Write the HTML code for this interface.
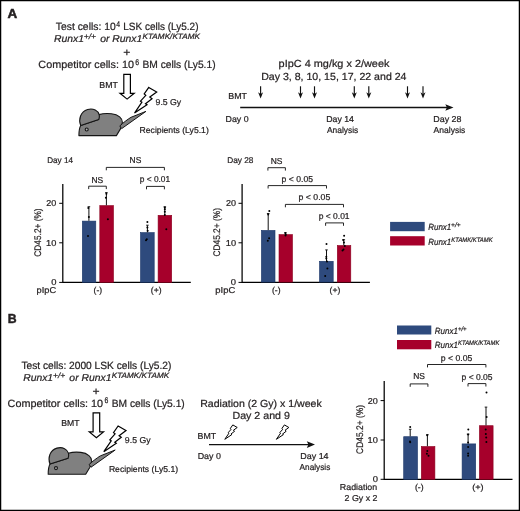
<!DOCTYPE html>
<html><head><meta charset="utf-8"><style>
html,body{margin:0;padding:0;background:#fff;}
svg{display:block;will-change:transform;}
text{text-rendering:geometricPrecision;font-family:"Liberation Sans", sans-serif;fill:#231f20;stroke:#231f20;stroke-width:0.22px;}
</style></head><body>
<svg width="520" height="511" viewBox="0 0 520 511">
<rect width="520" height="511" fill="#fff"/>
<rect x="0.6" y="0.6" width="518.8" height="509.8" fill="none" stroke="#000" stroke-width="1.3"/>
<text x="7.59" y="18.30" font-size="13" font-weight="bold" style="stroke-width:0.5px" textLength="9.71" lengthAdjust="spacingAndGlyphs">A</text>
<text x="7.69" y="322.70" font-size="13" font-weight="bold" style="stroke-width:0.5px" textLength="8.86" lengthAdjust="spacingAndGlyphs">B</text>
<text x="55.80" y="30.35" font-size="10.5" textLength="59.93" lengthAdjust="spacingAndGlyphs">Test cells: 10</text>
<text x="116.22" y="26.60" font-size="8.2" textLength="3.82" lengthAdjust="spacingAndGlyphs">4</text>
<text x="123.24" y="30.35" font-size="10.5" textLength="75.23" lengthAdjust="spacingAndGlyphs">LSK cells (Ly5.2)</text>
<text x="53.99" y="42.30" font-size="10" font-style="italic" textLength="29.90" lengthAdjust="spacingAndGlyphs">Runx1</text>
<text x="83.76" y="39.20" font-size="7.7" font-style="italic" textLength="12.26" lengthAdjust="spacingAndGlyphs">+/+</text>
<text x="100.19" y="42.30" font-size="10" font-style="italic" textLength="42.10" lengthAdjust="spacingAndGlyphs">or Runx1</text>
<text x="142.49" y="39.20" font-size="7.7" font-style="italic" textLength="57.53" lengthAdjust="spacingAndGlyphs">KTAMK/KTAMK</text>
<text x="123.34" y="56.20" font-size="11" textLength="7.14" lengthAdjust="spacingAndGlyphs">+</text>
<text x="38.39" y="68.30" font-size="10.5" textLength="95.56" lengthAdjust="spacingAndGlyphs">Competitor cells: 10</text>
<text x="135.26" y="64.80" font-size="8.2" textLength="3.84" lengthAdjust="spacingAndGlyphs">6</text>
<text x="142.52" y="68.30" font-size="10.5" textLength="73.06" lengthAdjust="spacingAndGlyphs">BM cells (Ly5.1)</text>
<text x="21.41" y="368.95" font-size="10.5" textLength="149.97" lengthAdjust="spacingAndGlyphs">Test cells: 2000 LSK cells (Ly5.2)</text>
<text x="23.19" y="380.90" font-size="10" font-style="italic" textLength="29.90" lengthAdjust="spacingAndGlyphs">Runx1</text>
<text x="52.96" y="377.80" font-size="7.7" font-style="italic" textLength="12.26" lengthAdjust="spacingAndGlyphs">+/+</text>
<text x="69.39" y="380.90" font-size="10" font-style="italic" textLength="42.10" lengthAdjust="spacingAndGlyphs">or Runx1</text>
<text x="111.69" y="377.80" font-size="7.7" font-style="italic" textLength="57.53" lengthAdjust="spacingAndGlyphs">KTAMK/KTAMK</text>
<text x="92.54" y="394.80" font-size="11" textLength="7.14" lengthAdjust="spacingAndGlyphs">+</text>
<text x="7.59" y="406.90" font-size="10.5" textLength="95.56" lengthAdjust="spacingAndGlyphs">Competitor cells: 10</text>
<text x="104.46" y="403.40" font-size="8.2" textLength="3.84" lengthAdjust="spacingAndGlyphs">6</text>
<text x="111.72" y="406.90" font-size="10.5" textLength="73.06" lengthAdjust="spacingAndGlyphs">BM cells (Ly5.1)</text>
<text x="99.38" y="87.50" font-size="8.6" textLength="18.57" lengthAdjust="spacingAndGlyphs">BMT</text>
<text x="155.59" y="104.60" font-size="8.6" textLength="25.66" lengthAdjust="spacingAndGlyphs">9.5 Gy</text>
<text x="139.60" y="133.40" font-size="8.6" textLength="69.17" lengthAdjust="spacingAndGlyphs">Recipients (Ly5.1)</text>
<g transform="translate(0,0)">
<path d="M123.8,74.3 L130.4,74.3 L130.4,93.3 L134.2,93.3 L127.1,99.1 L120.0,93.3 L123.8,93.3 Z" fill="#fff" stroke="#000" stroke-width="1.2"/>
<path d="M148.8,87.4 L156.7,92.0 L149.8,97.1 L152.0,98.7 L145.5,103.7 L147.0,104.7 L134.5,113.1 L141.9,102.2 L140.5,101.2 L145.8,95.3 L144.2,94.0 Z" fill="#fff" stroke="#000" stroke-width="1.2" stroke-linejoin="miter"/>
<path d="M78.9,135.6 L116.4,135.6 L120.6,128.6 L122.4,122.5 C122.6,118.5 118.5,114.6 111.5,113.8 C106,113.2 101.8,113.8 98.9,114.6 L98.7,119.6 L80.7,125.5 C79.4,127.8 78.9,131.5 78.9,135.6 Z" fill="#808080" stroke="#151515" stroke-width="1.1" stroke-linejoin="round"/>
<path d="M119.8,125.9 C123.5,122.6 127.5,119.4 131.0,117.3 L145.9,111.4 L121.7,128.6 Z" fill="#808080" stroke="#151515" stroke-width="1.0" stroke-linejoin="round"/>
<path d="M80.7,125.5 C78.2,119.5 80.5,111.5 87.6,109.5 C93.5,107.9 98.2,110.8 99.2,114.8 C99.6,116.5 99.4,118.2 98.7,119.6 Z" fill="#808080" stroke="#151515" stroke-width="1.1" stroke-linejoin="round"/>
<circle cx="86.7" cy="129.5" r="1.5" fill="#b4b4b4" stroke="#151515" stroke-width="1.1"/>
</g>
<text x="61.20" y="426.10" font-size="8.6" textLength="18.26" lengthAdjust="spacingAndGlyphs">BMT</text>
<text x="124.89" y="443.20" font-size="8.6" textLength="25.66" lengthAdjust="spacingAndGlyphs">9.5 Gy</text>
<text x="108.90" y="472.00" font-size="8.6" textLength="69.17" lengthAdjust="spacingAndGlyphs">Recipients (Ly5.1)</text>
<g transform="translate(-30.7,338.6)">
<path d="M123.8,74.3 L130.4,74.3 L130.4,93.3 L134.2,93.3 L127.1,99.1 L120.0,93.3 L123.8,93.3 Z" fill="#fff" stroke="#000" stroke-width="1.2"/>
<path d="M148.8,87.4 L156.7,92.0 L149.8,97.1 L152.0,98.7 L145.5,103.7 L147.0,104.7 L134.5,113.1 L141.9,102.2 L140.5,101.2 L145.8,95.3 L144.2,94.0 Z" fill="#fff" stroke="#000" stroke-width="1.2" stroke-linejoin="miter"/>
<path d="M78.9,135.6 L116.4,135.6 L120.6,128.6 L122.4,122.5 C122.6,118.5 118.5,114.6 111.5,113.8 C106,113.2 101.8,113.8 98.9,114.6 L98.7,119.6 L80.7,125.5 C79.4,127.8 78.9,131.5 78.9,135.6 Z" fill="#808080" stroke="#151515" stroke-width="1.1" stroke-linejoin="round"/>
<path d="M119.8,125.9 C123.5,122.6 127.5,119.4 131.0,117.3 L145.9,111.4 L121.7,128.6 Z" fill="#808080" stroke="#151515" stroke-width="1.0" stroke-linejoin="round"/>
<path d="M80.7,125.5 C78.2,119.5 80.5,111.5 87.6,109.5 C93.5,107.9 98.2,110.8 99.2,114.8 C99.6,116.5 99.4,118.2 98.7,119.6 Z" fill="#808080" stroke="#151515" stroke-width="1.1" stroke-linejoin="round"/>
<circle cx="86.7" cy="129.5" r="1.5" fill="#b4b4b4" stroke="#151515" stroke-width="1.1"/>
</g>
<text x="278.62" y="67.20" font-size="10.3" textLength="110.83" lengthAdjust="spacingAndGlyphs">pIpC 4 mg/kg x 2/week</text>
<text x="261.18" y="80.20" font-size="10.3" textLength="145.31" lengthAdjust="spacingAndGlyphs">Day 3, 8, 10, 15, 17, 22 and 24</text>
<text x="228.28" y="98.60" font-size="8.6" textLength="18.78" lengthAdjust="spacingAndGlyphs">BMT</text>
<line x1="260.6" y1="86.3" x2="260.6" y2="95.6" stroke="#111" stroke-width="1.15"/>
<path d="M258.1,92.3 L260.6,98.6 L263.1,92.3 L260.6,94.0 Z" fill="#111"/>
<line x1="300.5" y1="86.3" x2="300.5" y2="95.6" stroke="#111" stroke-width="1.15"/>
<path d="M298.0,92.3 L300.5,98.6 L303.0,92.3 L300.5,94.0 Z" fill="#111"/>
<line x1="314.5" y1="86.3" x2="314.5" y2="95.6" stroke="#111" stroke-width="1.15"/>
<path d="M312.0,92.3 L314.5,98.6 L317.0,92.3 L314.5,94.0 Z" fill="#111"/>
<line x1="354.3" y1="86.3" x2="354.3" y2="95.6" stroke="#111" stroke-width="1.15"/>
<path d="M351.8,92.3 L354.3,98.6 L356.8,92.3 L354.3,94.0 Z" fill="#111"/>
<line x1="368.8" y1="86.3" x2="368.8" y2="95.6" stroke="#111" stroke-width="1.15"/>
<path d="M366.3,92.3 L368.8,98.6 L371.3,92.3 L368.8,94.0 Z" fill="#111"/>
<line x1="407.5" y1="86.3" x2="407.5" y2="95.6" stroke="#111" stroke-width="1.15"/>
<path d="M405.0,92.3 L407.5,98.6 L410.0,92.3 L407.5,94.0 Z" fill="#111"/>
<line x1="423.0" y1="86.3" x2="423.0" y2="95.6" stroke="#111" stroke-width="1.15"/>
<path d="M420.5,92.3 L423.0,98.6 L425.5,92.3 L423.0,94.0 Z" fill="#111"/>
<line x1="240.2" y1="107.5" x2="449.5" y2="107.5" stroke="#111" stroke-width="1.4"/>
<path d="M445.3,104.2 L453.5,107.5 L445.3,110.8 L446.9,107.5 Z" fill="#111"/>
<text x="225.58" y="122.40" font-size="8.6" textLength="23.01" lengthAdjust="spacingAndGlyphs">Day 0</text>
<text x="326.19" y="122.20" font-size="8.6" textLength="27.80" lengthAdjust="spacingAndGlyphs">Day 14</text>
<text x="326.90" y="132.70" font-size="8.6" textLength="31.39" lengthAdjust="spacingAndGlyphs">Analysis</text>
<text x="433.28" y="122.20" font-size="8.6" textLength="28.22" lengthAdjust="spacingAndGlyphs">Day 28</text>
<text x="433.60" y="132.70" font-size="8.6" textLength="31.70" lengthAdjust="spacingAndGlyphs">Analysis</text>
<text x="200.18" y="406.60" font-size="10.3" textLength="121.57" lengthAdjust="spacingAndGlyphs">Radiation (2 Gy) x 1/week</text>
<text x="232.47" y="419.10" font-size="10.3" textLength="57.37" lengthAdjust="spacingAndGlyphs">Day 2 and 9</text>
<text x="197.58" y="439.40" font-size="8.6" textLength="18.57" lengthAdjust="spacingAndGlyphs">BMT</text>
<line x1="209" y1="444.6" x2="311.0" y2="444.6" stroke="#111" stroke-width="1.4"/>
<path d="M306.8,441.3 L315.0,444.6 L306.8,447.90000000000003 L308.4,444.6 Z" fill="#111"/>
<polygon points="232.81,424.91 237.23,427.48 233.37,430.34 234.60,431.24 230.96,434.04 231.80,434.60 224.80,439.30 228.94,433.20 228.16,432.64 231.13,429.33 230.23,428.60" fill="#fff" stroke="#000" stroke-width="1.0"/>
<polygon points="284.41,424.91 288.83,427.48 284.97,430.34 286.20,431.24 282.56,434.04 283.40,434.60 276.40,439.30 280.54,433.20 279.76,432.64 282.73,429.33 281.83,428.60" fill="#fff" stroke="#000" stroke-width="1.0"/>
<text x="197.68" y="459.00" font-size="8.6" textLength="23.22" lengthAdjust="spacingAndGlyphs">Day 0</text>
<text x="300.27" y="458.90" font-size="8.6" textLength="28.32" lengthAdjust="spacingAndGlyphs">Day 14</text>
<text x="299.60" y="469.60" font-size="8.6" textLength="30.69" lengthAdjust="spacingAndGlyphs">Analysis</text>
<text x="47.21" y="163.40" font-size="8.3" textLength="25.80" lengthAdjust="spacingAndGlyphs">Day 14</text>
<path d="M62.8,184.0 L62.8,282.4 L190.8,282.4" fill="none" stroke="#000" stroke-width="1.25"/>
<line x1="59.199999999999996" y1="203.3" x2="62.8" y2="203.3" stroke="#000" stroke-width="1.0"/>
<text x="46.33" y="206.30" font-size="8.6" textLength="10.07" lengthAdjust="spacingAndGlyphs">20</text>
<line x1="59.199999999999996" y1="242.8" x2="62.8" y2="242.8" stroke="#000" stroke-width="1.0"/>
<text x="46.10" y="245.80" font-size="8.6" textLength="10.30" lengthAdjust="spacingAndGlyphs">10</text>
<line x1="59.199999999999996" y1="282.4" x2="62.8" y2="282.4" stroke="#000" stroke-width="1.0"/>
<text x="51.17" y="285.40" font-size="8.6" textLength="5.24" lengthAdjust="spacingAndGlyphs">0</text>
<rect x="82.30" y="221.10" width="13.50" height="61.20" fill="#2e4a7d" stroke="#1a3668" stroke-width="0.6"/>
<rect x="99.80" y="205.60" width="13.70" height="76.70" fill="#a6002b" stroke="#8c001e" stroke-width="0.6"/>
<rect x="140.50" y="232.60" width="13.70" height="49.70" fill="#2e4a7d" stroke="#1a3668" stroke-width="0.6"/>
<rect x="158.10" y="215.30" width="13.60" height="67.00" fill="#a6002b" stroke="#8c001e" stroke-width="0.6"/>
<line x1="88.9" y1="206.7" x2="88.9" y2="220.8" stroke="#111" stroke-width="1.0"/>
<line x1="87.60000000000001" y1="206.7" x2="90.2" y2="206.7" stroke="#111" stroke-width="0.9"/>
<circle cx="88.3" cy="207.9" r="1.0" fill="#000"/>
<circle cx="88.9" cy="216.9" r="1.0" fill="#000"/>
<circle cx="88.0" cy="236.1" r="1.0" fill="#000"/>
<line x1="106.4" y1="192.6" x2="106.4" y2="205.3" stroke="#111" stroke-width="1.0"/>
<line x1="105.10000000000001" y1="192.6" x2="107.7" y2="192.6" stroke="#111" stroke-width="0.9"/>
<circle cx="106.4" cy="193.8" r="1.0" fill="#000"/>
<circle cx="105.9" cy="197.7" r="1.0" fill="#000"/>
<circle cx="107.9" cy="219.3" r="1.0" fill="#000"/>
<line x1="147.4" y1="225.2" x2="147.4" y2="232.3" stroke="#111" stroke-width="1.0"/>
<line x1="146.1" y1="225.2" x2="148.70000000000002" y2="225.2" stroke="#111" stroke-width="0.9"/>
<circle cx="147.4" cy="221.9" r="1.0" fill="#000"/>
<circle cx="147.4" cy="227.6" r="1.0" fill="#000"/>
<circle cx="147.7" cy="230.8" r="1.0" fill="#000"/>
<circle cx="146.8" cy="239.3" r="1.0" fill="#000"/>
<circle cx="146.0" cy="240.3" r="1.0" fill="#000"/>
<line x1="164.8" y1="206.8" x2="164.8" y2="215.0" stroke="#111" stroke-width="1.0"/>
<line x1="163.5" y1="206.8" x2="166.10000000000002" y2="206.8" stroke="#111" stroke-width="0.9"/>
<circle cx="164.8" cy="207.5" r="1.0" fill="#000"/>
<circle cx="164.8" cy="209.2" r="1.0" fill="#000"/>
<circle cx="164.8" cy="211.7" r="1.0" fill="#000"/>
<circle cx="164.8" cy="215.0" r="1.0" fill="#000"/>
<circle cx="166.3" cy="229.3" r="1.0" fill="#000"/>
<path d="M88.7,189.1 L88.7,186.2 L106.3,186.2 L106.3,189.1" fill="none" stroke="#1a1a1a" stroke-width="0.95"/>
<text x="91.51" y="182.60" font-size="8.6" textLength="11.72" lengthAdjust="spacingAndGlyphs">NS</text>
<path d="M106.3,170.3 L106.3,167.4 L164.4,167.4 L164.4,170.3" fill="none" stroke="#1a1a1a" stroke-width="0.95"/>
<text x="129.61" y="163.40" font-size="8.6" textLength="11.72" lengthAdjust="spacingAndGlyphs">NS</text>
<path d="M146.5,189.3 L146.5,186.4 L164.4,186.4 L164.4,189.3" fill="none" stroke="#1a1a1a" stroke-width="0.95"/>
<text x="139.71" y="182.10" font-size="8.6" textLength="30.46" lengthAdjust="spacingAndGlyphs">p &lt; 0.01</text>
<text x="36.56" y="292.60" font-size="8.6" textLength="19.57" lengthAdjust="spacingAndGlyphs">pIpC</text>
<text x="93.59" y="292.60" font-size="8.6">(-)</text>
<text x="150.81" y="292.60" font-size="8.6">(+)</text>
<text x="227.20" y="163.40" font-size="8.3" textLength="26.21" lengthAdjust="spacingAndGlyphs">Day 28</text>
<path d="M242.1,184.0 L242.1,282.4 L369.9,282.4" fill="none" stroke="#000" stroke-width="1.25"/>
<line x1="238.5" y1="203.3" x2="242.1" y2="203.3" stroke="#000" stroke-width="1.0"/>
<text x="226.03" y="206.30" font-size="8.6" textLength="10.07" lengthAdjust="spacingAndGlyphs">20</text>
<line x1="238.5" y1="242.8" x2="242.1" y2="242.8" stroke="#000" stroke-width="1.0"/>
<text x="225.80" y="245.80" font-size="8.6" textLength="10.30" lengthAdjust="spacingAndGlyphs">10</text>
<line x1="238.5" y1="282.4" x2="242.1" y2="282.4" stroke="#000" stroke-width="1.0"/>
<text x="230.87" y="285.40" font-size="8.6" textLength="5.24" lengthAdjust="spacingAndGlyphs">0</text>
<rect x="261.40" y="230.40" width="13.60" height="51.70" fill="#2e4a7d" stroke="#1a3668" stroke-width="0.6"/>
<rect x="279.00" y="234.60" width="13.50" height="47.50" fill="#a6002b" stroke="#8c001e" stroke-width="0.6"/>
<rect x="319.50" y="261.30" width="13.70" height="20.80" fill="#2e4a7d" stroke="#1a3668" stroke-width="0.6"/>
<rect x="337.30" y="245.50" width="13.50" height="36.60" fill="#a6002b" stroke="#8c001e" stroke-width="0.6"/>
<line x1="268.2" y1="213.5" x2="268.2" y2="230.1" stroke="#111" stroke-width="1.0"/>
<line x1="266.9" y1="213.5" x2="269.5" y2="213.5" stroke="#111" stroke-width="0.9"/>
<circle cx="269.3" cy="211.1" r="1.0" fill="#000"/>
<circle cx="268.2" cy="214.4" r="1.0" fill="#000"/>
<circle cx="269.1" cy="238.2" r="1.0" fill="#000"/>
<circle cx="267.8" cy="240.8" r="1.0" fill="#000"/>
<line x1="285.5" y1="232.8" x2="285.5" y2="234.3" stroke="#111" stroke-width="1.0"/>
<line x1="284.2" y1="232.8" x2="286.8" y2="232.8" stroke="#111" stroke-width="0.9"/>
<circle cx="285.3" cy="233.0" r="1.0" fill="#000"/>
<circle cx="285.7" cy="234.6" r="1.0" fill="#000"/>
<circle cx="285.5" cy="235.6" r="1.0" fill="#000"/>
<line x1="326.5" y1="249.9" x2="326.5" y2="261.0" stroke="#111" stroke-width="1.0"/>
<line x1="325.2" y1="249.9" x2="327.8" y2="249.9" stroke="#111" stroke-width="0.9"/>
<circle cx="326.5" cy="244.0" r="1.0" fill="#000"/>
<circle cx="326.3" cy="256.7" r="1.0" fill="#000"/>
<circle cx="326.3" cy="258.5" r="1.0" fill="#000"/>
<circle cx="327.0" cy="261.4" r="1.0" fill="#000"/>
<circle cx="327.4" cy="268.4" r="1.0" fill="#000"/>
<circle cx="325.2" cy="276.1" r="1.0" fill="#000"/>
<line x1="343.8" y1="239.7" x2="343.8" y2="245.2" stroke="#111" stroke-width="1.0"/>
<line x1="342.5" y1="239.7" x2="345.1" y2="239.7" stroke="#111" stroke-width="0.9"/>
<circle cx="344.1" cy="235.8" r="1.0" fill="#000"/>
<circle cx="343.2" cy="240.0" r="1.0" fill="#000"/>
<circle cx="344.0" cy="242.6" r="1.0" fill="#000"/>
<circle cx="344.8" cy="245.9" r="1.0" fill="#000"/>
<circle cx="342.5" cy="250.6" r="1.0" fill="#000"/>
<circle cx="343.5" cy="249.6" r="1.0" fill="#000"/>
<path d="M267.9,170.6 L267.9,167.7 L285.4,167.7 L285.4,170.6" fill="none" stroke="#1a1a1a" stroke-width="0.95"/>
<text x="270.71" y="163.60" font-size="8.6" textLength="11.72" lengthAdjust="spacingAndGlyphs">NS</text>
<path d="M268.1,188.5 L268.1,185.6 L326.5,185.6 L326.5,188.5" fill="none" stroke="#1a1a1a" stroke-width="0.95"/>
<text x="281.60" y="181.70" font-size="8.6" textLength="31.38" lengthAdjust="spacingAndGlyphs">p &lt; 0.05</text>
<path d="M285.4,207.3 L285.4,204.4 L343.5,204.4 L343.5,207.3" fill="none" stroke="#1a1a1a" stroke-width="0.95"/>
<text x="298.49" y="200.40" font-size="8.6" textLength="31.79" lengthAdjust="spacingAndGlyphs">p &lt; 0.05</text>
<path d="M325.6,225.8 L325.6,222.9 L343.5,222.9 L343.5,225.8" fill="none" stroke="#1a1a1a" stroke-width="0.95"/>
<text x="318.71" y="218.70" font-size="8.6" textLength="30.87" lengthAdjust="spacingAndGlyphs">p &lt; 0.01</text>
<text x="215.35" y="292.60" font-size="8.6" textLength="19.89" lengthAdjust="spacingAndGlyphs">pIpC</text>
<text x="271.99" y="292.60" font-size="8.6">(-)</text>
<text x="329.61" y="292.60" font-size="8.6">(+)</text>
<text transform="translate(41.40,256.65) rotate(-90)" x="0" y="0" font-size="9.6" textLength="48.28" lengthAdjust="spacingAndGlyphs">CD45.2+ (%)</text>
<text transform="translate(220.10,256.55) rotate(-90)" x="0" y="0" font-size="9.6" textLength="48.48" lengthAdjust="spacingAndGlyphs">CD45.2+ (%)</text>
<rect x="390.1" y="221.9" width="34.599999999999966" height="9.299999999999983" fill="#2e4a7d"/>
<rect x="390.1" y="236.2" width="34.599999999999966" height="9.300000000000011" fill="#a6002b"/>
<text x="428.22" y="229.80" font-size="9.0" font-style="italic" textLength="23.00" lengthAdjust="spacingAndGlyphs">Runx1</text>
<text x="451.10" y="226.80" font-size="6.5" font-style="italic" textLength="9.40" lengthAdjust="spacingAndGlyphs">+/+</text>
<text x="428.22" y="244.50" font-size="9.0" font-style="italic" textLength="23.00" lengthAdjust="spacingAndGlyphs">Runx1</text>
<text x="451.32" y="241.50" font-size="6.5" font-style="italic" textLength="41.24" lengthAdjust="spacingAndGlyphs">KTAMK/KTAMK</text>
<rect x="397.0" y="325.5" width="34.30000000000001" height="9.0" fill="#2e4a7d"/>
<rect x="397.0" y="340.0" width="34.30000000000001" height="9.300000000000011" fill="#a6002b"/>
<text x="434.82" y="333.80" font-size="9.0" font-style="italic" textLength="23.21" lengthAdjust="spacingAndGlyphs">Runx1</text>
<text x="457.93" y="330.80" font-size="6.5" font-style="italic" textLength="8.65" lengthAdjust="spacingAndGlyphs">+/+</text>
<text x="434.82" y="348.30" font-size="9.0" font-style="italic" textLength="23.21" lengthAdjust="spacingAndGlyphs">Runx1</text>
<text x="458.12" y="345.30" font-size="6.5" font-style="italic" textLength="41.24" lengthAdjust="spacingAndGlyphs">KTAMK/KTAMK</text>
<path d="M384.2,381.0 L384.2,479.4 L512.5,479.4" fill="none" stroke="#000" stroke-width="1.25"/>
<line x1="380.59999999999997" y1="400.6" x2="384.2" y2="400.6" stroke="#000" stroke-width="1.0"/>
<text x="367.83" y="403.60" font-size="8.6" textLength="10.07" lengthAdjust="spacingAndGlyphs">20</text>
<line x1="380.59999999999997" y1="440.0" x2="384.2" y2="440.0" stroke="#000" stroke-width="1.0"/>
<text x="367.60" y="443.00" font-size="8.6" textLength="10.30" lengthAdjust="spacingAndGlyphs">10</text>
<line x1="380.59999999999997" y1="479.3" x2="384.2" y2="479.3" stroke="#000" stroke-width="1.0"/>
<text x="372.67" y="482.30" font-size="8.6" textLength="5.24" lengthAdjust="spacingAndGlyphs">0</text>
<text transform="translate(362.90,453.95) rotate(-90)" x="0" y="0" font-size="9.6" textLength="48.99" lengthAdjust="spacingAndGlyphs">CD45.2+ (%)</text>
<rect x="403.70" y="436.70" width="13.80" height="42.60" fill="#2e4a7d" stroke="#1a3668" stroke-width="0.6"/>
<rect x="421.30" y="446.50" width="13.60" height="32.80" fill="#a6002b" stroke="#8c001e" stroke-width="0.6"/>
<rect x="462.10" y="443.90" width="13.60" height="35.40" fill="#2e4a7d" stroke="#1a3668" stroke-width="0.6"/>
<rect x="479.40" y="425.70" width="13.70" height="53.60" fill="#a6002b" stroke="#8c001e" stroke-width="0.6"/>
<line x1="410.2" y1="429.3" x2="410.2" y2="436.4" stroke="#111" stroke-width="1.0"/>
<line x1="408.9" y1="429.3" x2="411.5" y2="429.3" stroke="#111" stroke-width="0.9"/>
<circle cx="410.2" cy="427.0" r="1.0" fill="#000"/>
<circle cx="410.0" cy="441.5" r="1.0" fill="#000"/>
<circle cx="410.2" cy="442.3" r="1.0" fill="#000"/>
<line x1="427.4" y1="434.7" x2="427.4" y2="446.2" stroke="#111" stroke-width="1.0"/>
<line x1="426.09999999999997" y1="434.7" x2="428.7" y2="434.7" stroke="#111" stroke-width="0.9"/>
<circle cx="427.2" cy="435.2" r="1.0" fill="#000"/>
<circle cx="427.3" cy="450.9" r="1.0" fill="#000"/>
<circle cx="426.9" cy="453.8" r="1.0" fill="#000"/>
<circle cx="428.5" cy="455.7" r="1.0" fill="#000"/>
<line x1="468.1" y1="434.1" x2="468.1" y2="443.6" stroke="#111" stroke-width="1.0"/>
<line x1="466.8" y1="434.1" x2="469.40000000000003" y2="434.1" stroke="#111" stroke-width="0.9"/>
<circle cx="468.3" cy="429.6" r="1.0" fill="#000"/>
<circle cx="468.1" cy="434.6" r="1.0" fill="#000"/>
<circle cx="468.1" cy="442.4" r="1.0" fill="#000"/>
<circle cx="468.1" cy="446.9" r="1.0" fill="#000"/>
<circle cx="468.1" cy="453.6" r="1.0" fill="#000"/>
<circle cx="468.1" cy="455.7" r="1.0" fill="#000"/>
<line x1="486.0" y1="407.1" x2="486.0" y2="425.4" stroke="#111" stroke-width="1.0"/>
<line x1="484.7" y1="407.1" x2="487.3" y2="407.1" stroke="#111" stroke-width="0.9"/>
<circle cx="486.5" cy="392.5" r="1.0" fill="#000"/>
<circle cx="486.6" cy="417.0" r="1.0" fill="#000"/>
<circle cx="485.7" cy="429.6" r="1.0" fill="#000"/>
<circle cx="485.8" cy="434.1" r="1.0" fill="#000"/>
<circle cx="486.2" cy="437.4" r="1.0" fill="#000"/>
<circle cx="486.4" cy="441.9" r="1.0" fill="#000"/>
<path d="M410.2,386.8 L410.2,383.9 L427.9,383.9 L427.9,386.8" fill="none" stroke="#1a1a1a" stroke-width="0.95"/>
<text x="413.21" y="379.30" font-size="8.6" textLength="11.72" lengthAdjust="spacingAndGlyphs">NS</text>
<path d="M427.5,367.4 L427.5,364.5 L485.9,364.5 L485.9,367.4" fill="none" stroke="#1a1a1a" stroke-width="0.95"/>
<text x="440.80" y="360.80" font-size="8.6" textLength="31.49" lengthAdjust="spacingAndGlyphs">p &lt; 0.05</text>
<path d="M468.0,386.5 L468.0,383.6 L485.9,383.6 L485.9,386.5" fill="none" stroke="#1a1a1a" stroke-width="0.95"/>
<text x="461.61" y="379.70" font-size="8.6" textLength="30.97" lengthAdjust="spacingAndGlyphs">p &lt; 0.05</text>
<text x="339.88" y="490.00" font-size="8.6" textLength="37.31" lengthAdjust="spacingAndGlyphs">Radiation</text>
<text x="344.59" y="500.60" font-size="8.6" textLength="32.90" lengthAdjust="spacingAndGlyphs">2 Gy x 2</text>
<text x="414.90" y="490.00" font-size="8.6" textLength="8.67" lengthAdjust="spacingAndGlyphs">(-)</text>
<text x="472.17" y="490.00" font-size="8.6" textLength="11.42" lengthAdjust="spacingAndGlyphs">(+)</text>
</svg>
</body></html>
